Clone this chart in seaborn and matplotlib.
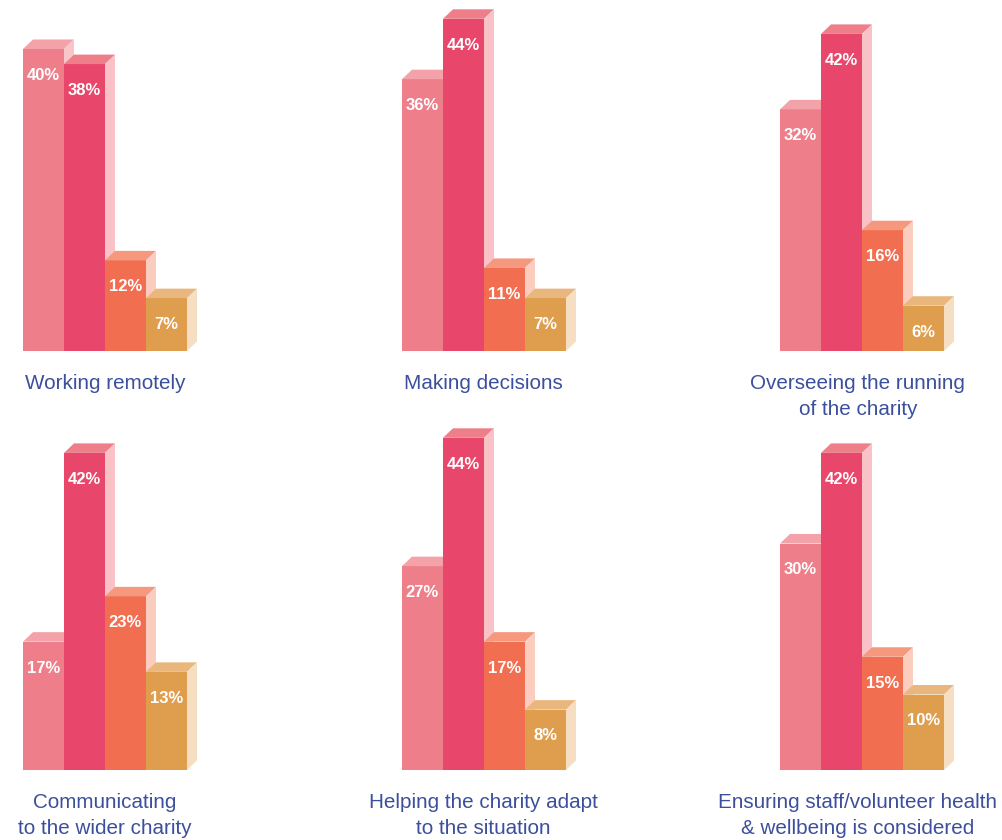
import matplotlib
matplotlib.use("Agg")
import matplotlib.pyplot as plt
from matplotlib.patches import Polygon
import seaborn as sns
import pandas as pd

# ---- data ----
panel_titles = [
    "Working remotely",
    "Making decisions",
    "Overseeing the running\nof the charity",
    "Communicating\nto the wider charity",
    "Helping the charity adapt\nto the situation",
    "Ensuring staff/volunteer health\n& wellbeing is considered",
]
series_names = ["S1", "S2", "S3", "S4"]
bar1 = [40, 36, 32, 17, 27, 30]
bar2 = [38, 44, 42, 42, 44, 42]
bar3 = [12, 11, 16, 23, 17, 15]
bar4 = [7, 7, 6, 13, 8, 10]

front_colors = ["#EE7F8A", "#E8466A", "#F26E51", "#DE9E4E"]
top_colors = ["#F3A2A9", "#EE7F8A", "#F5987E", "#E9B77D"]
side_colors = ["#F8C6CA", "#F8C2C7", "#FBCDBE", "#F5DEC1"]
text_blue = "#3C4F9C"

sns.set_theme(style="white")
plt.rcParams["font.family"] = ["Liberation Sans", "DejaVu Sans"]

W, H = 1002, 840
fig = plt.figure(figsize=(W / 100, H / 100), dpi=100)

bar_px = 41.0
px_per_pct = 7.55
ymax = 46
xlo, xhi = -0.5, 3.75
lefts = [23, 402, 780]
label_shift_pt = [0, -0.5, -3.0]
baselines = [351, 770]
depth_px_x, depth_px_y = 10.0, 9.5

for k, title in enumerate(panel_titles):
    row, col = divmod(k, 3)
    left_px = lefts[col]
    base_px = baselines[row]
    w_px = (xhi - xlo) * bar_px
    h_px = ymax * px_per_pct
    ax = fig.add_axes([left_px / W, (H - base_px) / H, w_px / W, h_px / H])
    vals = [bar1[k], bar2[k], bar3[k], bar4[k]]
    df = pd.DataFrame({"series": series_names, "value": vals})
    sns.barplot(data=df, x="series", y="value", hue="series",
                palette=front_colors, width=1.0, legend=False,
                saturation=1, linewidth=0, ax=ax)
    ax.set_xlim(xlo, xhi)
    ax.set_ylim(0, ymax)
    ax.axis("off")
    dx = depth_px_x / bar_px
    dy = depth_px_y / px_per_pct
    for i, p in enumerate(ax.patches):
        x0 = p.get_x()
        w = p.get_width()
        h = p.get_height()
        z = 10 + 3 * i
        p.set_zorder(z)
        p.set_edgecolor("none")
        top = Polygon([(x0, h), (x0 + dx, h + dy), (x0 + w + dx, h + dy), (x0 + w, h)],
                      closed=True, facecolor=top_colors[i], edgecolor="none", zorder=z + 1)
        side = Polygon([(x0 + w, 0), (x0 + w, h), (x0 + w + dx, h + dy), (x0 + w + dx, dy)],
                       closed=True, facecolor=side_colors[i], edgecolor="none", zorder=z + 1)
        ax.add_patch(top)
        ax.add_patch(side)
        ax.annotate(f"{vals[i]}%", xy=(x0 + w / 2, h), xytext=(0, -19),
                    textcoords="offset points", ha="center", va="center",
                    color="white", fontsize=12, fontweight="bold", zorder=z + 2)
    ax.annotate(title, xy=(1.5, 0), xycoords=("data", "axes fraction"),
                xytext=(label_shift_pt[col], -16.8), textcoords="offset points",
                ha="center", va="top", color=text_blue, fontsize=14.9,
                linespacing=1.42, annotation_clip=False)

fig.savefig("out.png", dpi=100)
